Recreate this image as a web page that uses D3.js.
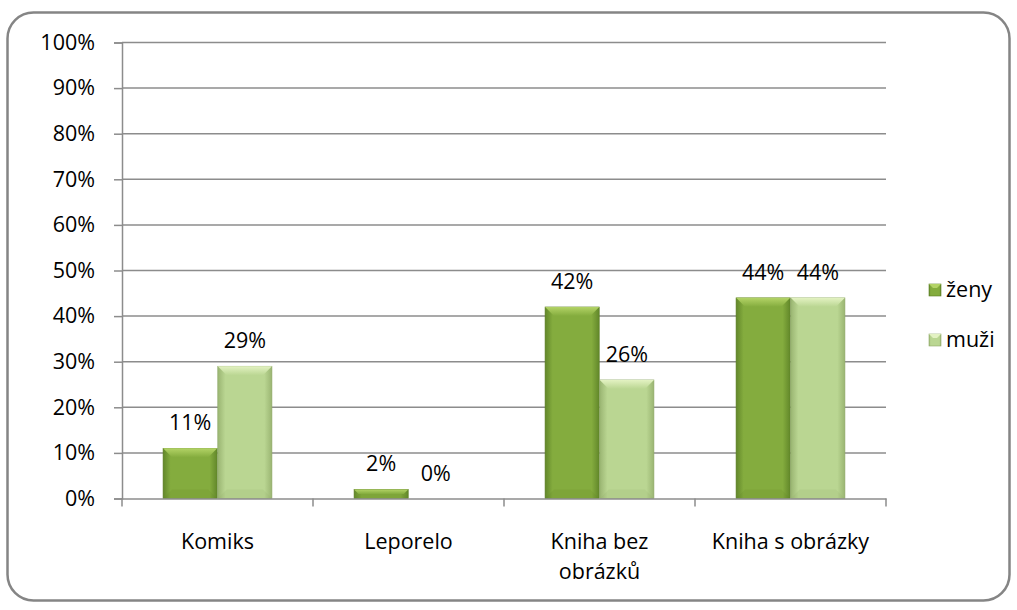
<!DOCTYPE html>
<html>
<head>
<meta charset="utf-8">
<script src="https://cdn.jsdelivr.net/npm/d3@7"></script>
<style>
  body { margin: 0; background: #fff; }
  svg text { font-family: "Open Sans", sans-serif; font-weight: normal; fill: #000; }
</style>
</head>
<body>
<div id="chart"></div>
<script>
// data
const categories = ["Komiks", "Leporelo", "Kniha bez obrázků", "Kniha s obrázky"];
const series = ["ženy", "muži"];
const zeny = [0.11, 0.02, 0.42, 0.44];
const muzi = [0.29, 0.00, 0.26, 0.44];
const yTicks = [0, 0.1, 0.2, 0.3, 0.4, 0.5, 0.6, 0.7, 0.8, 0.9, 1];

const W = 1017, H = 610;
const margin = { left: 122, right: 131, top: 42.5, bottom: 111.5 };
const fontSize = 21.5;

const svg = d3.select("#chart").append("svg")
    .attr("width", W).attr("height", H);

// outer frame
svg.append("rect")
    .attr("x", 7.5).attr("y", 12.5)
    .attr("width", 1002).attr("height", 588)
    .attr("rx", 26).attr("ry", 26)
    .attr("fill", "#fff").attr("stroke", "#858585").attr("stroke-width", 2.5);

const defs = svg.append("defs");
const colors = {
    "ženy": { edge: "#62872a", mid: "#84ac3e", top: "#b3d366", bot: "#5b7d24" },
    "muži": { edge: "#9ab572", mid: "#bad692", top: "#e3f2c2", bot: "#8fa868" }
};
series.forEach((s, i) => {
    const g = defs.append("linearGradient").attr("id", "g" + i)
        .attr("x1", 0).attr("x2", 1).attr("y1", 0).attr("y2", 0);
    g.append("stop").attr("offset", "0%").attr("stop-color", colors[s].edge);
    g.append("stop").attr("offset", "14%").attr("stop-color", colors[s].mid);
    g.append("stop").attr("offset", "86%").attr("stop-color", colors[s].mid);
    g.append("stop").attr("offset", "100%").attr("stop-color", colors[s].edge);
    const t = defs.append("linearGradient").attr("id", "t" + i)
        .attr("x1", 0).attr("x2", 0).attr("y1", 0).attr("y2", 1);
    t.append("stop").attr("offset", "0%").attr("stop-color", colors[s].top);
    t.append("stop").attr("offset", "100%").attr("stop-color", colors[s].mid);
});

const plotW = W - margin.left - margin.right;
const x0 = d3.scaleBand().domain(categories).range([margin.left, margin.left + plotW]);
const gap = x0.bandwidth() * 0.215;
const x1 = d3.scaleBand().domain(series).range([gap, x0.bandwidth() - gap]).paddingInner(0.01);
const y = d3.scaleLinear().domain([0, 1]).range([H - margin.bottom, margin.top]);

// grid lines
svg.append("g").selectAll("line").data(yTicks.slice(1)).join("line")
    .attr("x1", margin.left).attr("x2", margin.left + plotW)
    .attr("y1", d => y(d)).attr("y2", d => y(d))
    .attr("stroke", "#8c8c8c").attr("stroke-width", 1.5);

// y axis
const yAxis = svg.append("g").attr("transform", `translate(${margin.left},0)`)
    .call(d3.axisLeft(y).tickValues(yTicks).tickFormat(d3.format(".0%")).tickSize(8).tickPadding(19));
yAxis.select(".domain").attr("stroke", "#8c8c8c").attr("stroke-width", 1.5);
yAxis.selectAll(".tick line").attr("stroke", "#8c8c8c").attr("stroke-width", 1.5);
yAxis.selectAll(".tick text").attr("font-size", fontSize).attr("font-family", null).attr("fill", "#000");

// bars
const rows = categories.map((c, i) => ({ cat: c, vals: [zeny[i], muzi[i]] }));
const groups = svg.append("g").selectAll("g").data(rows).join("g")
    .attr("transform", d => `translate(${x0(d.cat)},0)`);

groups.each(function(d) {
    const g = d3.select(this);
    d.vals.forEach((v, i) => {
        const s = series[i];
        const bx = x1(s), bw = x1.bandwidth();
        const by = y(v), bh = y(0) - y(v);
        if (bh > 0) {
            const b = Math.min(9, bh / 2);
            g.append("rect").attr("x", bx).attr("y", by).attr("width", bw).attr("height", bh)
                .attr("fill", `url(#g${i})`).attr("stroke", colors[s].bot).attr("stroke-width", 0.6);
            // top bevel
            g.append("path")
                .attr("d", `M${bx},${by}L${bx + bw},${by}L${bx + bw - b},${by + b}L${bx + b},${by + b}Z`)
                .attr("fill", `url(#t${i})`);
            // bottom shade
            g.append("path")
                .attr("d", `M${bx},${by + bh}L${bx + bw},${by + bh}L${bx + bw - b},${by + bh - b}L${bx + b},${by + bh - b}Z`)
                .attr("fill", colors[s].bot).attr("opacity", 0.15);
        }
        g.append("text")
            .attr("x", bx + bw / 2).attr("y", by - 18)
            .attr("text-anchor", "middle").attr("font-size", fontSize)
            .text(d3.format(".0%")(v));
    });
});

// x axis
const xAxis = svg.append("g").attr("transform", `translate(0,${y(0)})`)
    .call(d3.axisBottom(x0).tickSize(0).tickFormat(""));
xAxis.select(".domain").attr("stroke", "#8c8c8c").attr("stroke-width", 1.5);
const bounds = [margin.left].concat(categories.map(c => x0(c) + x0.bandwidth()));
xAxis.append("g").selectAll("line").data(bounds).join("line")
    .attr("x1", d => d).attr("x2", d => d).attr("y1", 0).attr("y2", 8)
    .attr("stroke", "#8c8c8c").attr("stroke-width", 1.5);

// category labels (wrapped like the original)
const catLines = { "Kniha bez obrázků": ["Kniha bez", "obrázků"] };
categories.forEach(c => {
    const lines = catLines[c] || [c];
    const t = svg.append("text")
        .attr("x", x0(c) + x0.bandwidth() / 2).attr("y", 549)
        .attr("text-anchor", "middle").attr("font-size", fontSize);
    lines.forEach((l, i) => t.append("tspan")
        .attr("x", x0(c) + x0.bandwidth() / 2).attr("dy", i ? 30 : 0).text(l));
});

// legend
const legend = svg.append("g").selectAll("g").data(series).join("g")
    .attr("transform", (d, i) => `translate(929,${284 + i * 50})`);
legend.append("rect").attr("width", 12).attr("height", 12)
    .attr("fill", (d, i) => `url(#g${i})`).attr("stroke", d => colors[d].bot).attr("stroke-width", 0.6);
legend.append("path").attr("d", "M0,0L12,0L8,4L4,4Z").attr("fill", d => colors[d].top);
legend.append("text").attr("x", 17).attr("y", 13).attr("font-size", fontSize).text(d => d);
</script>
</body>
</html>
